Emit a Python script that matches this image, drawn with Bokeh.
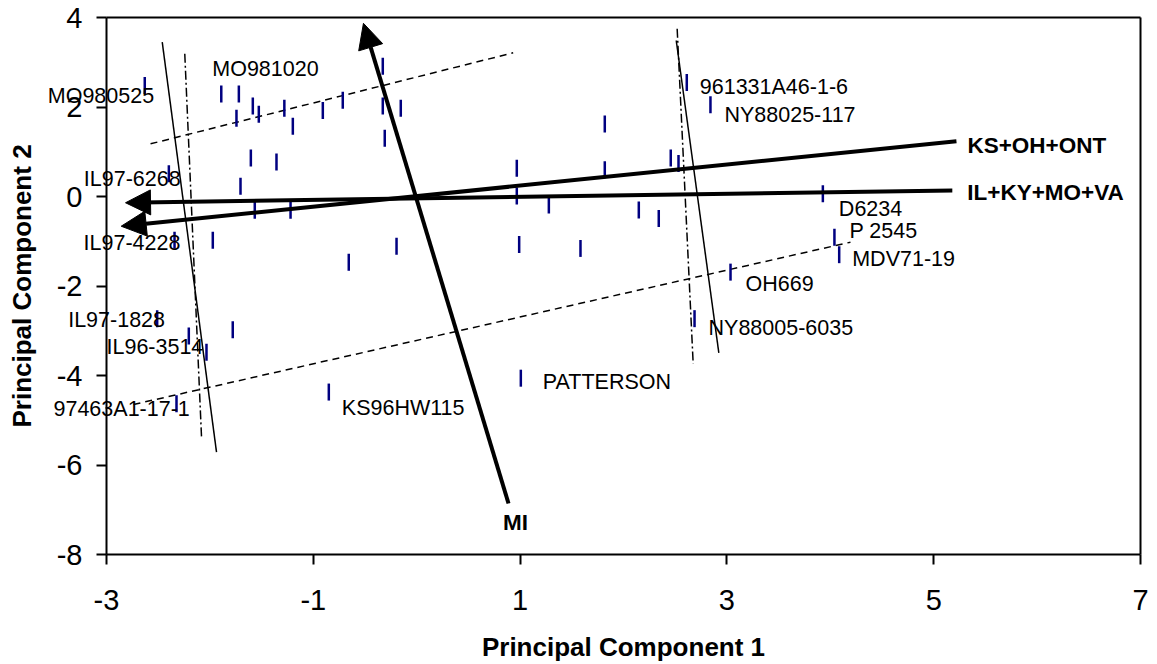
import numpy as np
from bokeh.plotting import figure
from bokeh.models import Range1d, FixedTicker, Arrow, NormalHead, Label, LinearAxis
from bokeh.embed import file_html
from bokeh.resources import INLINE

# ---- data: genotype scores on the first two principal components ----
pc1 = [-2.63, -1.89, -1.72, -1.585, -1.743, -1.527, -1.28, -1.198, -0.908, -0.715,
       -0.328, -0.328, -0.154, -0.309, -1.604, -1.356, -1.704, -2.397, -1.566, -1.22,
       -2.342, -1.972, -0.657, -0.195, -2.51, -2.204, -1.779, -2.033, -2.323, -0.85,
       2.612, 2.841, 1.819, 0.968, 1.819, 2.457, 2.532, 0.968, 1.278, 2.148,
       2.341, 3.928, 4.04, 4.086, 3.035, 2.687, 1.007, 0.991, 1.584]
pc2 = [2.48, 2.29, 2.29, 2.02, 1.75, 1.84, 1.97, 1.57, 1.92, 2.15,
       2.91, 2.02, 1.97, 1.30, 0.86, 0.77, 0.23, 0.51, -0.31, -0.31,
       -0.98, -0.98, -1.47, -1.11, -2.73, -3.12, -2.98, -3.48, -4.63, -4.37,
       2.55, 2.05, 1.62, 0.63, 0.60, 0.86, 0.74, 0.01, -0.19, -0.30,
       -0.49, 0.06, -0.91, -1.30, -1.69, -2.73, -4.06, -1.07, -1.16]
names = ["MO980525", "MO981020", "", "", "", "", "", "", "", "",
         "", "", "", "", "", "", "", "IL97-6268", "", "",
         "IL97-4228", "", "", "", "IL97-1828", "", "", "IL96-3514", "97463A1-17-1", "KS96HW115",
         "961331A46-1-6", "NY88025-117", "", "", "", "", "", "", "", "",
         "", "D6234", "P 2545", "MDV71-19", "OH669", "NY88005-6035", "PATTERSON", "", ""]

# environment-group vectors (tail -> arrow head)
vec_names = ["KS+OH+ONT", "IL+KY+MO+VA", "MI"]
vec_x0 = [5.22, 5.18, 0.888]
vec_y0 = [1.236, 0.134, -6.86]
vec_x1 = [-2.858, -2.816, -0.515]
vec_y1 = [-0.664, -0.14, 3.87]

# boundary lines
solid_x0 = [-2.461, 2.510]
solid_y0 = [3.448, 3.486]
solid_x1 = [-1.936, 2.922]
solid_y1 = [-5.714, -3.493]

dashdot_x0 = [-2.243, 2.519]
dashdot_y0 = [3.19, 3.747]
dashdot_x1 = [-2.081, 2.674]
dashdot_y1 = [-5.378, -3.739]

dashed_x0 = [-2.574, -2.739]
dashed_y0 = [1.177, -4.648]
dashed_x1 = [0.933, 4.195]
dashed_y1 = [3.211, -1.021]

x_ticks = [-3, -1, 1, 3, 5, 7]
y_ticks = [-8, -6, -4, -2, 0, 2, 4]

# ---- label placement (screen pixel offsets from the point; +dy = down) ----
label_offsets = {
    "MO980525": (-97, 10), "MO981020": (-9, -25), "IL97-6268": (-85, 5),
    "IL97-4228": (-91, 3), "IL97-1828": (-89, 1), "IL96-3514": (-100, -5),
    "97463A1-17-1": (-123, 5), "KS96HW115": (13, 16), "PATTERSON": (22, 4),
    "961331A46-1-6": (13, 5), "NY88025-117": (14, 10), "D6234": (16, 15),
    "P 2545": (15, -6), "MDV71-19": (13, 4), "OH669": (15, 12),
    "NY88005-6035": (14, 9),
}
vec_label_offsets = {"KS+OH+ONT": (11, 4), "IL+KY+MO+VA": (15, 2), "MI": (7, 19)}
vec_label_align = {"KS+OH+ONT": "left", "IL+KY+MO+VA": "left", "MI": "center"}

FONT = "Liberation Sans"

# ---- layout: the frame fills the canvas, axes sit at fixed data locations ----
X_MIN, X_MAX = x_ticks[0], x_ticks[-1]
Y_MIN, Y_MAX = y_ticks[0], y_ticks[-1]
CANVAS_W, CANVAS_H = 1150, 664
PLOT_L, PLOT_T, PLOT_W, PLOT_H = 106, 17, 1034, 537
sx = PLOT_W / (X_MAX - X_MIN)
sy = PLOT_H / (Y_MAX - Y_MIN)
x_range = Range1d(X_MIN - PLOT_L / sx, X_MIN + (CANVAS_W - PLOT_L) / sx)
y_range = Range1d(Y_MAX - (CANVAS_H - PLOT_T) / sy, Y_MAX + PLOT_T / sy)

p = figure(frame_width=CANVAS_W, frame_height=CANVAS_H, min_border=0,
           x_range=x_range, y_range=y_range,
           x_axis_location=None, y_axis_location=None,
           output_backend="svg", toolbar_location=None,
           background_fill_color="white", border_fill_color="white",
           outline_line_color=None)
p.grid.visible = False


def style_axis(ax, ticks):
    ax.ticker = FixedTicker(ticks=ticks)
    ax.major_label_overrides = {t: str(t) for t in ticks}
    ax.axis_line_width = 2
    ax.axis_line_color = "black"
    ax.major_tick_line_width = 2
    ax.major_tick_line_color = "black"
    ax.major_tick_out = 10
    ax.major_tick_in = 0
    ax.minor_tick_line_color = None
    ax.major_label_text_font = FONT
    ax.major_label_text_font_size = "29px"
    ax.major_label_text_color = "black"
    ax.axis_label_text_font = FONT
    ax.axis_label_text_font_size = "26px"
    ax.axis_label_text_font_style = "bold"
    ax.axis_label_text_color = "black"


xaxis = LinearAxis(fixed_location=Y_MIN, bounds=(X_MIN, X_MAX),
                   axis_label="Principal Component 1")
style_axis(xaxis, x_ticks)
xaxis.major_label_standoff = 25
xaxis.axis_label_standoff = 19
p.add_layout(xaxis, "below")

yaxis = LinearAxis(fixed_location=X_MIN, bounds=(Y_MIN, Y_MAX),
                   axis_label="Principal Component 2")
style_axis(yaxis, y_ticks)
yaxis.major_label_standoff = 14
yaxis.axis_label_standoff = 17
p.add_layout(yaxis, "left")

# top and right frame lines
top = LinearAxis(fixed_location=Y_MAX, bounds=(X_MIN, X_MAX))
right = LinearAxis(fixed_location=X_MAX, bounds=(Y_MIN, Y_MAX))
for ax in (top, right):
    ax.axis_line_width = 2
    ax.axis_line_color = "black"
    ax.major_tick_line_color = None
    ax.minor_tick_line_color = None
    ax.major_label_text_color = None
p.add_layout(top, "above")
p.add_layout(right, "right")

# boundary lines
p.segment(solid_x0, solid_y0, solid_x1, solid_y1, line_color="black", line_width=1.5)
p.segment(dashdot_x0, dashdot_y0, dashdot_x1, dashdot_y1, line_color="black",
          line_width=1.5, line_dash="9 3 2 3")
p.segment(dashed_x0, dashed_y0, dashed_x1, dashed_y1, line_color="black",
          line_width=1.5, line_dash="7 5")

# points
p.scatter(pc1, pc2, marker="dash", angle=np.pi / 2, size=17,
          line_color="#000080", line_width=2.5, fill_color=None)

# point labels
for i, nm in enumerate(names):
    if not nm:
        continue
    dx, dy = label_offsets[nm]
    p.add_layout(Label(x=pc1[i], y=pc2[i], text=nm, x_offset=dx, y_offset=-dy,
                       text_font=FONT, text_font_size="21.5px", text_color="black",
                       text_align="left", text_baseline="middle"))

# vectors
for i, nm in enumerate(vec_names):
    p.add_layout(Arrow(end=NormalHead(size=25, fill_color="black", line_color="black", line_width=1),
                       x_start=vec_x0[i], y_start=vec_y0[i], x_end=vec_x1[i], y_end=vec_y1[i],
                       line_color="black", line_width=4))
    dx, dy = vec_label_offsets[nm]
    p.add_layout(Label(x=vec_x0[i], y=vec_y0[i], text=nm, x_offset=dx, y_offset=-dy,
                       text_font=FONT, text_font_size="22.5px", text_font_style="bold",
                       text_color="black", text_align=vec_label_align[nm], text_baseline="middle"))

open("out.html", "w").write(file_html(p, INLINE))
